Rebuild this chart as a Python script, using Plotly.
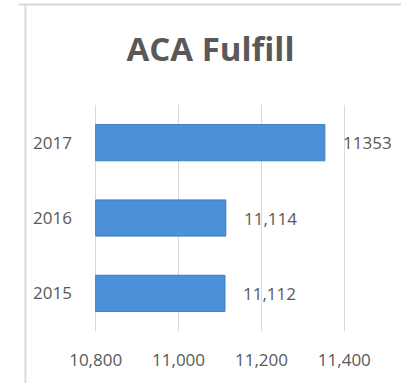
import plotly.graph_objects as go

years = ["2015", "2016", "2017"]
values = [11112, 11114, 11353]
data_labels = ["11,112", "11,114", "11353"]
x_ticks = [10800, 11000, 11200, 11400]
x_tick_labels = ["10,800", "11,000", "11,200", "11,400"]
axis_min = 10800

gray = "#595959"
font = "Open Sans"

fig = go.Figure()
fig.add_trace(go.Bar(
    y=years, x=[v - axis_min for v in values], base=axis_min, orientation="h",
    marker=dict(color="#4b90d9", line=dict(color="#3f7cc0", width=1)),
    width=0.48,
    hoverinfo="skip",
))

for i, (v, t) in enumerate(zip(values, data_labels)):
    fig.add_annotation(x=v, y=i, xref="x", yref="y", text=t, showarrow=False,
                       xanchor="left", xshift=16,
                       font=dict(family=font, size=17, color=gray))

fig.add_shape(type="line", xref="paper", yref="paper", x0=-0.3, x1=1.3, y0=1.445, y1=1.445,
              line=dict(color="#d9d9d9", width=2))
fig.add_shape(type="line", xref="paper", yref="paper", x0=-0.272, x1=-0.272, y0=1.445, y1=-0.3,
              line=dict(color="#d9d9d9", width=2))

fig.update_layout(
    width=401, height=383,
    margin=dict(l=94, r=55, t=105, b=50),
    paper_bgcolor="white", plot_bgcolor="white",
    showlegend=False,
    title=dict(text="<b>ACA Fulfill</b>", x=0.525, xanchor="center", y=0.87, yanchor="middle",
               font=dict(family=font, size=33, color=gray)),
    xaxis=dict(range=[10796, 11404], tickvals=x_ticks, ticktext=x_tick_labels,
               showgrid=True, gridcolor="#d9d9d9", gridwidth=1, zeroline=False,
               showline=False, ticklabelstandoff=17,
               tickfont=dict(family=font, size=17, color=gray)),
    yaxis=dict(type="category", range=[-0.5, 2.5], showgrid=False, showline=False, ticks="",
               ticklabelstandoff=21,
               tickfont=dict(family=font, size=17, color=gray)),
)

fig.write_html("out.html")
